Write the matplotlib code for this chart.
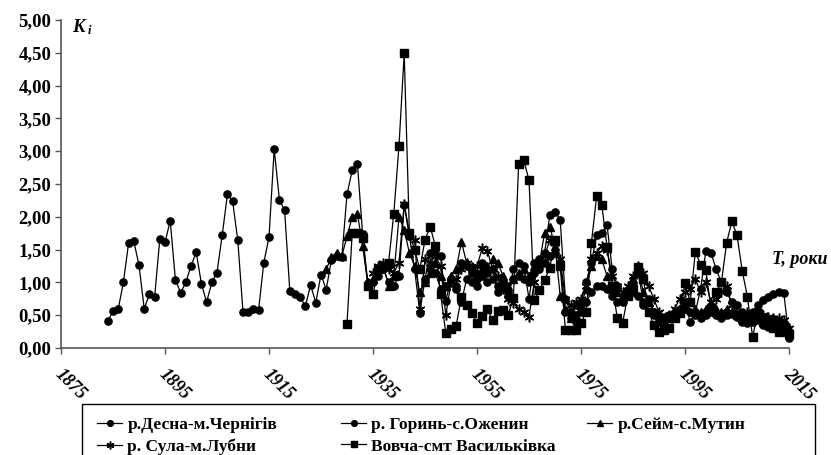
import matplotlib.pyplot as plt
from matplotlib.patches import Rectangle
from matplotlib.transforms import ScaledTranslation

# K_i by year for each gauge
desna_years = list(range(1884, 2016))
desna = [0.41, 0.56, 0.59, 1.00, 1.60, 1.63, 1.26, 0.60, 0.82, 0.77,
         1.66, 1.61, 1.94, 1.04, 0.84, 1.00, 1.25, 1.46, 0.98, 0.70,
         1.00, 1.15, 1.72, 2.34, 2.24, 1.64, 0.55, 0.55, 0.59, 0.58,
         1.30, 1.69, 3.03, 2.26, 2.10, 0.87, 0.83, 0.77, 0.64, 0.96,
         0.69, 1.12, 0.89, 1.34, 1.41, 1.38, 2.34, 2.71, 2.81, 1.74,
         0.99,
         1.00, 1.10, 1.20, 1.00, 0.95, 1.10, 2.18, 1.70, 1.20, 0.54,
         1.05, 1.45, 1.50, 1.40, 0.72, 1.05, 0.95, 1.30, 1.25, 1.15,
         0.95, 1.30, 1.15, 1.20, 0.85, 0.95, 0.80, 1.20, 1.30, 1.25,
         0.75, 1.30, 1.35, 1.45, 2.03, 2.08, 1.95, 0.75, 0.55, 0.65,
         0.70, 1.00, 1.30, 1.72, 1.75, 1.88, 1.20, 0.95, 0.70, 0.85,
         0.95, 1.15, 0.70, 0.75, 0.55, 0.40, 0.45, 0.50, 0.55, 0.60,
         0.70, 0.40, 0.55, 0.90, 1.48, 1.45, 1.20, 1.00, 0.85, 0.70,
         0.65, 0.55, 0.50, 0.55, 0.65, 0.73, 0.78, 0.83, 0.85, 0.84,
         0.15]

horyn_years = list(range(1945, 2016))
horyn = [1.00, 1.20, 1.15, 0.90, 0.95, 1.05, 0.90, 0.70, 1.05, 1.00,
         1.05, 1.10, 1.00, 1.05, 0.95, 1.00, 0.85, 1.05, 1.10, 1.05,
         1.00, 1.15, 1.20, 1.30, 1.40, 1.45, 1.30, 0.55, 0.45, 0.40,
         0.55, 0.70, 0.85, 0.95, 0.95, 0.90, 0.80, 0.70, 0.75, 0.80,
         0.85, 0.80, 0.65, 0.55, 0.50, 0.45, 0.40, 0.45, 0.50, 0.55,
         0.60, 0.55, 0.50, 0.45, 0.50, 0.55, 0.50, 0.45, 0.50, 0.52,
         0.48, 0.40, 0.38, 0.40, 0.42, 0.35, 0.32, 0.35, 0.30, 0.25,
         0.22]

seim_years = list(range(1926, 2016))
seim = [1.20, 1.38, 1.45, 1.40, 1.70, 2.00, 2.05, 1.55, 1.00, 1.05,
        1.20, 1.25, 0.95, 1.10, 2.00, 1.80, 1.45, 1.25, 0.85, 1.00,
        1.15, 1.30, 1.10, 0.95, 1.10, 1.20, 1.62, 1.30, 1.25, 1.15,
        1.20, 1.25, 1.35, 1.30, 1.10, 0.95, 1.05, 1.15, 1.20, 1.10,
        1.25, 1.30, 1.75, 1.85, 1.55, 0.80, 0.60, 0.45, 0.50, 0.65,
        0.90, 1.25, 1.40, 1.35, 1.10, 0.90, 0.85, 0.80, 0.90, 1.05,
        1.20, 0.85, 0.70, 0.55, 0.45, 0.40, 0.45, 0.55, 0.60, 0.65,
        0.70, 0.60, 0.55, 0.60, 0.65, 0.60, 0.55, 0.60, 0.55, 0.50,
        0.45, 0.50, 0.45, 0.45, 0.40, 0.42, 0.45, 0.40, 0.38, 0.30]

sula_years = list(range(1935, 2016))
sula = [1.15, 1.25, 1.30, 1.20, 1.15, 1.30, 2.20, 1.75, 1.65, 0.60,
        1.35, 1.30, 1.40, 1.25, 0.50, 1.00, 1.05, 1.20, 1.30, 1.20,
        1.25, 1.52, 1.48, 1.20, 1.10, 0.90, 0.75, 0.68, 0.60, 0.55,
        0.48, 1.00, 1.30, 1.40, 1.65, 1.60, 1.35, 0.75, 0.65, 0.70,
        0.75, 0.95, 1.35, 1.45, 1.55, 1.50, 1.10, 0.95, 0.85, 0.95,
        1.10, 1.25, 1.15, 0.95, 0.75, 0.55, 0.45, 0.50, 0.60, 0.75,
        0.85, 0.90, 1.05, 0.85, 1.00, 0.70, 0.75, 0.85, 0.95, 0.65,
        0.55, 0.50, 0.55, 0.48, 0.52, 0.50, 0.48, 0.46, 0.45, 0.42,
        0.30]

vovcha_years = list(range(1930, 2016))
vovcha = [0.37, 1.75, 1.75, 1.68, 0.95, 0.82, 1.20, 1.25, 1.30, 2.05,
          3.08, 4.49, 1.76, 1.50, 1.20, 1.65, 1.85, 1.55, 0.82, 0.23,
          0.29, 0.34, 0.78, 0.65, 0.54, 0.38, 0.49, 0.59, 0.43, 0.56,
          0.58, 0.51, 0.76, 2.80, 2.86, 2.56, 0.73, 0.88, 1.04, 1.22,
          1.65, 1.25, 0.27, 0.27, 0.27, 0.38, 0.55, 1.60, 2.31, 2.18,
          1.54, 0.95, 0.45, 0.38, 0.80, 0.90, 1.24, 1.05, 0.55, 0.35,
          0.25, 0.27, 0.30, 0.45, 0.53, 0.99, 0.70, 1.47, 1.27, 1.19,
          0.60, 0.85, 1.00, 1.60, 1.93, 1.72, 1.18, 0.78, 0.17, 0.53,
          0.45, 0.40, 0.30, 0.25, 0.33, 0.22]

labels = ['р.Десна-м.Чернігів', 'р. Горинь-с.Оженин', 'р.Сейм-с.Мутин',
          'р. Сула-м.Лубни', 'Вовча-смт Васильківка']

plt.rcParams['font.family'] = ['Liberation Serif', 'DejaVu Serif']
plt.rcParams['font.weight'] = 'bold'

fig = plt.figure(figsize=(8.31, 4.55), dpi=100)
ax = fig.add_axes([61 / 831, 1 - 348 / 455, (789 - 61) / 831, (348 - 20) / 455])

style = dict(color='black', lw=0.9, ms=5.2, clip_on=False)
h1, = ax.plot(desna_years, desna, marker='o', label=labels[0], **style)
h2, = ax.plot(horyn_years, horyn, marker='o', label=labels[1], **style)
h3, = ax.plot(seim_years, seim, marker='^', label=labels[2], **style)
h4, = ax.plot(sula_years, sula, marker=(6, 2, 0), mew=1.1, label=labels[3],
              color='black', lw=0.9, ms=7, clip_on=False)
h5, = ax.plot(vovcha_years, vovcha, marker='s', label=labels[4], **style)

ax.set_xlim(1875, 2015)
ax.set_ylim(0, 5)
ax.set_xticks(range(1875, 2016, 20))
ax.set_yticks([i * 0.5 for i in range(11)])
ax.set_yticklabels([f'{i * 0.5:.2f}'.replace('.', ',') for i in range(11)],
                   fontsize=13.5, fontweight='bold')
ax.set_xticklabels([str(y) for y in range(1875, 2016, 20)], rotation=-45,
                   ha='left', va='top', rotation_mode='anchor',
                   fontsize=13, fontweight='bold', fontstyle='italic')
ax.tick_params(axis='x', direction='out', length=4, width=1, color='#555555', pad=9)
ax.tick_params(axis='y', direction='out', length=4, width=1, color='#555555', pad=3)
shift = ScaledTranslation(3 / 100, 0, fig.dpi_scale_trans)
for lab in ax.get_xticklabels():
    lab.set_transform(lab.get_transform() + shift)
for side in ['top', 'right']:
    ax.spines[side].set_visible(False)
for side in ['left', 'bottom']:
    ax.spines[side].set_color('#555555')
    ax.spines[side].set_linewidth(1.2)

fig.text(72 / 831, 1 - 32 / 455, 'K', fontsize=13.5, fontweight='bold',
         fontstyle='italic', va='baseline')
fig.text(88 / 831, 1 - 34 / 455, 'i', fontsize=9, fontweight='bold',
         fontstyle='italic', va='baseline')
fig.text(772 / 831, 1 - 264 / 455, 'T, роки', fontsize=13, fontweight='bold',
         fontstyle='italic', va='baseline')

# legend frame, cut by the bottom of the image like the original
fig.patches.append(Rectangle((82 / 831, -0.05), (815 - 82) / 831, 0.05 + (455 - 404) / 455,
                             transform=fig.transFigure, fill=False,
                             edgecolor='black', lw=1))
legend_cols = [([h1, h4], [labels[0], labels[3]], 97),
               ([h2, h5], [labels[1], labels[4]], 341),
               ([h3], [labels[2]], 587)]
for handles, texts, left in legend_cols:
    fig.legend(handles, texts, ncol=1, loc='upper left',
               bbox_to_anchor=(left / 831, 1 - 417 / 455),
               frameon=False, handlelength=1.45, handletextpad=0.3,
               labelspacing=0.3, borderaxespad=0, borderpad=0,
               markerscale=0.8, prop={'weight': 'bold', 'size': 12.5})

fig.savefig('out.png', dpi=100)
